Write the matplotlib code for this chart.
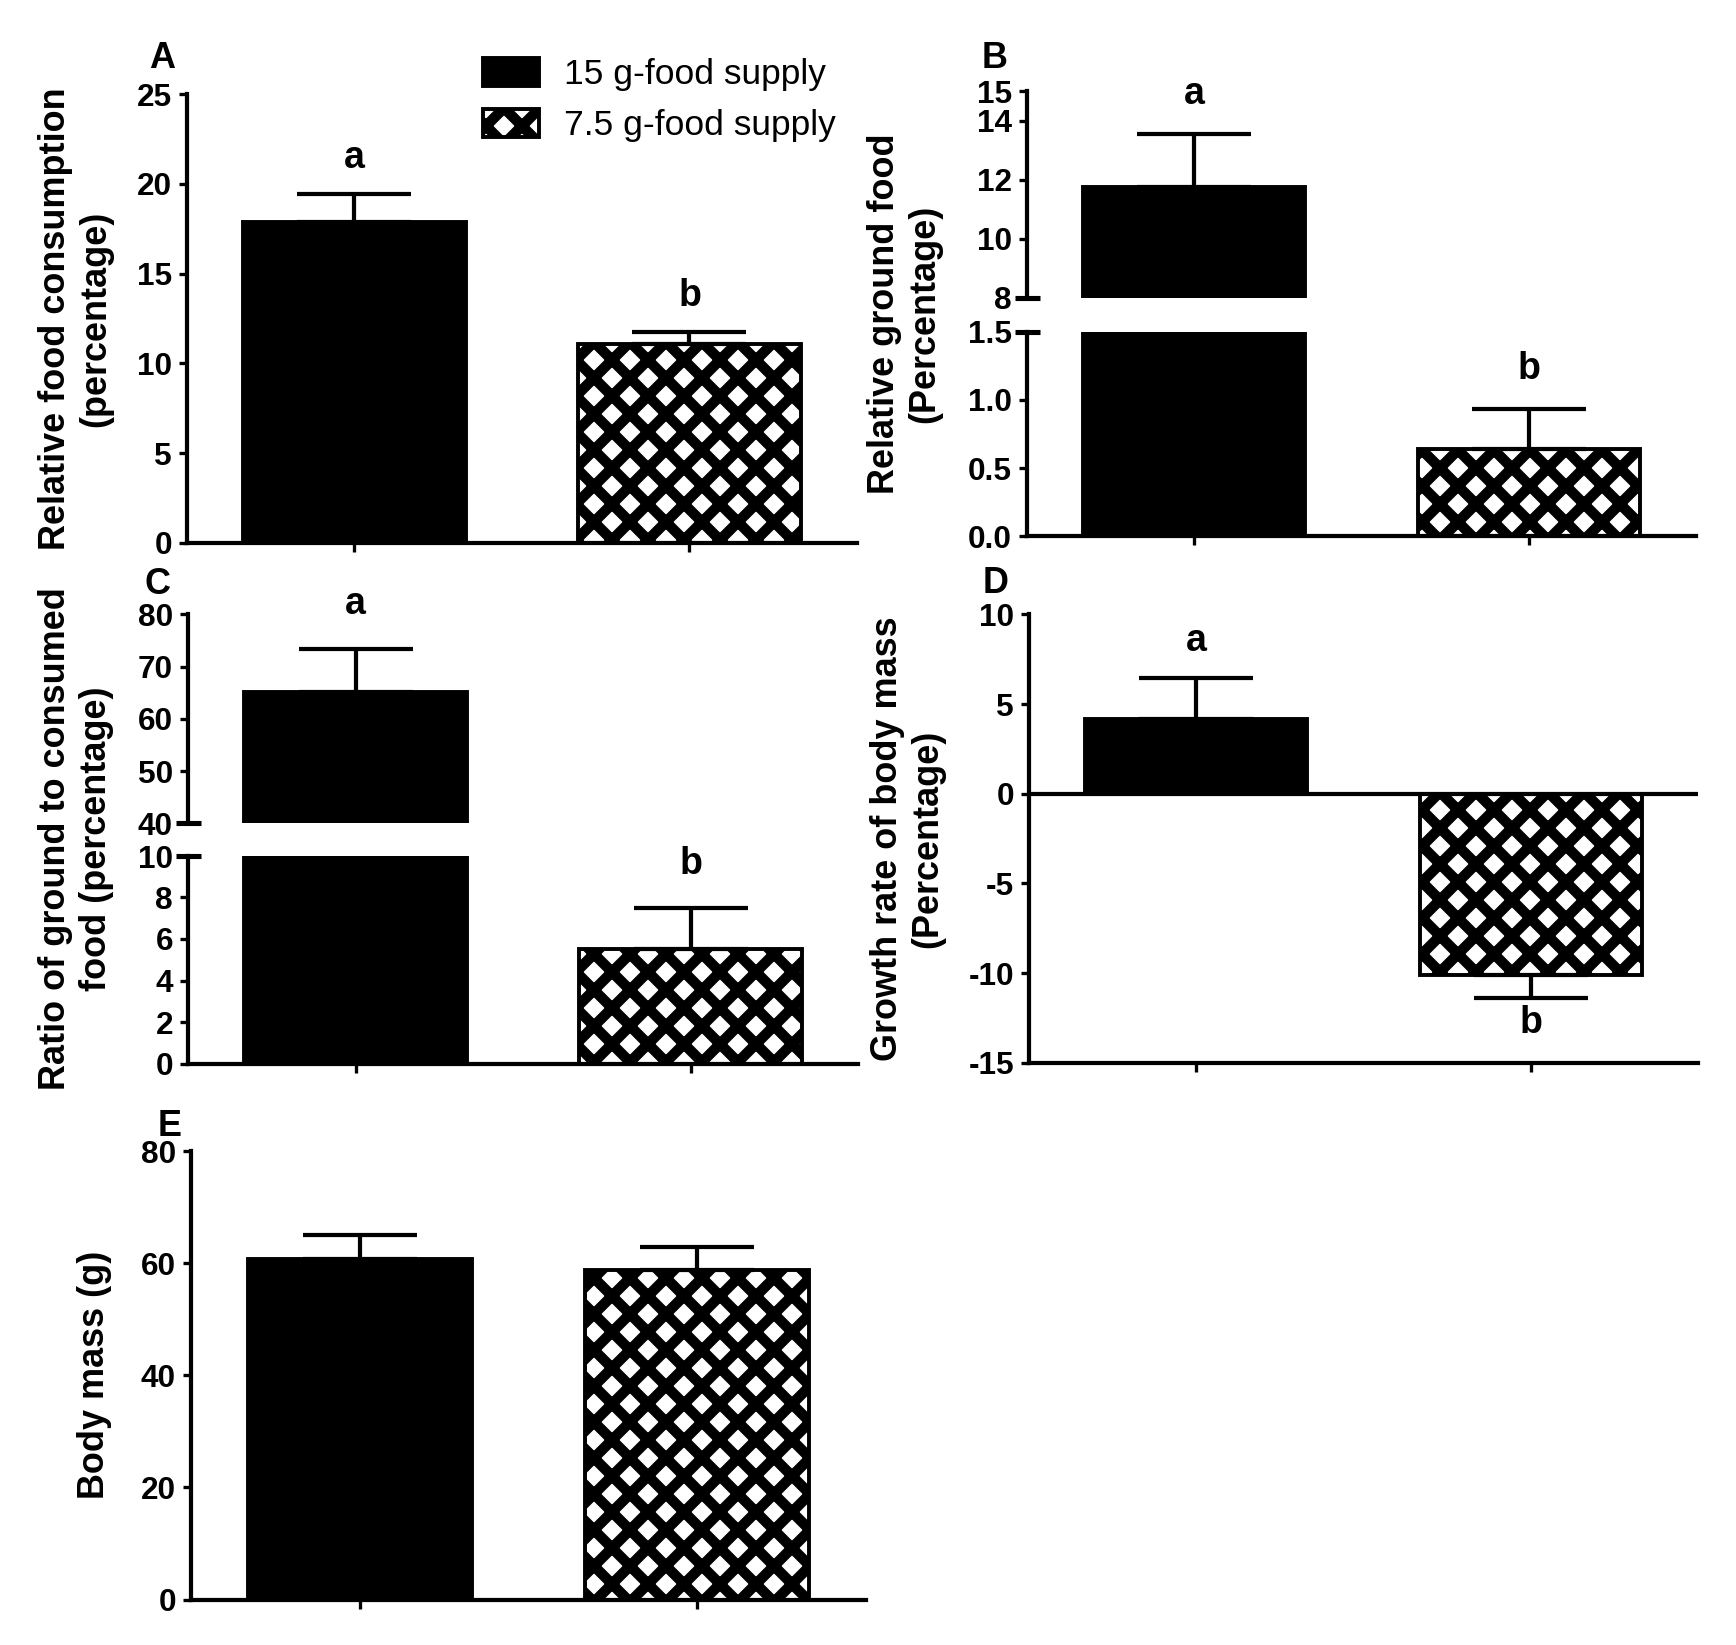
import matplotlib
matplotlib.use("Agg")
import matplotlib.pyplot as plt
from matplotlib.patches import Patch

# canvas in pixels, hatch spacing scales with dpi
W, H, DPI = 1737, 1645, 216

plt.rcParams['font.family'] = ['Liberation Sans', 'DejaVu Sans']
plt.rcParams['axes.unicode_minus'] = False
plt.rcParams['hatch.linewidth'] = 3.5
plt.rcParams['hatch.color'] = 'black'

groups = ["15 g-food supply", "7.5 g-food supply"]

food_consumption = [17.85, 11.1]
food_consumption_se = [1.6, 0.65]
food_consumption_sig = ["a", "b"]

ground_food = [11.75, 0.64]
ground_food_se = [1.8, 0.29]
ground_food_sig = ["a", "b"]

ground_ratio = [65.2, 5.5]
ground_ratio_se = [8.2, 1.97]
ground_ratio_sig = ["a", "b"]

growth_rate = [4.15, -10.08]
growth_rate_se = [2.3, 1.3]
growth_rate_sig = ["a", "b"]

body_mass = [60.8, 58.8]
body_mass_se = [4.2, 4.1]

BAR_STYLES = [
    dict(color='black', edgecolor='black', linewidth=1.3),
    dict(facecolor='white', edgecolor='black', hatch='xx', linewidth=1.3),
]

fig = plt.figure(figsize=(W / DPI, H / DPI), dpi=DPI)


def add_ax(left, top, right, bottom):
    # pixel box -> figure fraction
    return fig.add_axes([left / W, 1 - bottom / H, (right - left) / W, (bottom - top) / H])


def style_ax(ax, show_x=True):
    ax.spines['top'].set_visible(False)
    ax.spines['right'].set_visible(False)
    for s in ('left', 'bottom'):
        ax.spines[s].set_linewidth(1.4)
    ax.tick_params(axis='y', length=2.6, width=1.1, pad=2.4, labelsize=10.5)
    for lab in ax.get_yticklabels():
        lab.set_fontweight('bold')
    ax.set_xlim(-0.5, 1.5)
    if show_x:
        ax.set_xticks([0, 1])
        ax.set_xticklabels([])
        ax.tick_params(axis='x', length=2.9, width=1.1)
    else:
        ax.spines['bottom'].set_visible(False)
        ax.set_xticks([])


def draw_bars(ax, vals, errs, sig=None, offset=9):
    for i, (v, e) in enumerate(zip(vals, errs)):
        ax.bar(i, v, width=0.665, **BAR_STYLES[i])
        yerr = [[0], [e]] if v >= 0 else [[e], [0]]
        ax.errorbar(i, v, yerr=yerr, fmt='none', ecolor='black',
                    elinewidth=1.4, capsize=19, capthick=1.4)
        if sig:
            if v >= 0:
                ax.annotate(sig[i], xy=(i, v + e), xytext=(0, offset),
                            textcoords='offset points', ha='center', va='baseline',
                            fontsize=12.5, fontweight='bold')
            else:
                ax.annotate(sig[i], xy=(i, v - e), xytext=(0, -2.5),
                            textcoords='offset points', ha='center', va='top',
                            fontsize=12.5, fontweight='bold')


def break_mark(ax, y):
    ax.plot([-0.018, 0.02], [y, y], transform=ax.transAxes, color='black',
            lw=1.7, clip_on=False, solid_capstyle='butt')


def set_yticks(ax, ticks, fmt='{:g}'):
    ax.set_yticks(ticks)
    ax.set_yticklabels([fmt.format(t) for t in ticks], fontweight='bold')


# A
axA = add_ax(187, 94, 857, 543)
draw_bars(axA, food_consumption, food_consumption_se, food_consumption_sig, offset=8.6)
axA.set_ylim(0, 25)
set_yticks(axA, [0, 5, 10, 15, 20, 25])
style_ax(axA)

# B (broken axis)
axBu = add_ax(1027, 91, 1696, 297.7)
axBl = add_ax(1027, 331.7, 1696, 536.4)
for ax in (axBu, axBl):
    draw_bars(ax, ground_food, ground_food_se, ground_food_sig, offset=10)
axBu.set_ylim(8, 15)
set_yticks(axBu, [8, 10, 12, 14, 15])
axBl.set_ylim(0, 1.5)
set_yticks(axBl, [0, 0.5, 1.0, 1.5], '{:.1f}')
style_ax(axBu, show_x=False)
style_ax(axBl)
break_mark(axBu, 0)
break_mark(axBl, 1)

# C (broken axis)
axCu = add_ax(188, 614.3, 858, 823.3)
axCl = add_ax(188, 856, 858, 1063.5)
for ax in (axCu, axCl):
    draw_bars(ax, ground_ratio, ground_ratio_se, ground_ratio_sig, offset=11.5)
axCu.set_ylim(40, 80)
set_yticks(axCu, [40, 50, 60, 70, 80])
axCl.set_ylim(0, 10)
set_yticks(axCl, [0, 2, 4, 6, 8, 10])
style_ax(axCu, show_x=False)
style_ax(axCl)
break_mark(axCu, 0)
break_mark(axCl, 1)

# D
axD = add_ax(1029, 614.4, 1698, 1062.8)
draw_bars(axD, growth_rate, growth_rate_se, growth_rate_sig, offset=9)
axD.axhline(0, color='black', lw=1.4, zorder=3)
axD.set_ylim(-15, 10)
set_yticks(axD, [-15, -10, -5, 0, 5, 10])
style_ax(axD)

# E
axE = add_ax(191, 1151.4, 866, 1599.5)
draw_bars(axE, body_mass, body_mass_se)
axE.set_ylim(0, 80)
set_yticks(axE, [0, 20, 40, 60, 80])
style_ax(axE)

# y labels
ylabels = [
    (76, 318.5, "Relative food consumption\n(percentage)"),
    (905, 313.7, "Relative ground food\n(Percentage)"),
    (76, 839, "Ratio of ground to consumed\nfood (percentage)"),
    (908, 838.6, "Growth rate of body mass\n(Percentage)"),
    (95, 1375, "Body mass (g)"),
]
for x, y, txt in ylabels:
    fig.text(x / W, 1 - y / H, txt, rotation=90, ha='center', va='center',
             multialignment='center', fontsize=12, fontweight='bold')

# panel letters
panels = [("A", 149, 68), ("B", 982, 68), ("C", 144, 594), ("D", 983, 593), ("E", 158, 1136)]
for letter, x, y in panels:
    fig.text(x / W, 1 - y / H, letter, ha='left', va='baseline',
             fontsize=12, fontweight='bold')

handles = [Patch(**BAR_STYLES[0]), Patch(**BAR_STYLES[1])]
fig.legend(handles, groups, loc='upper left', bbox_to_anchor=(483 / W, 1 - 58 / H),
           frameon=False, fontsize=11.8, borderpad=0, borderaxespad=0,
           handlelength=1.58, handleheight=0.85, handletextpad=0.72, labelspacing=0.5)

fig.savefig("out.png", dpi=DPI)
